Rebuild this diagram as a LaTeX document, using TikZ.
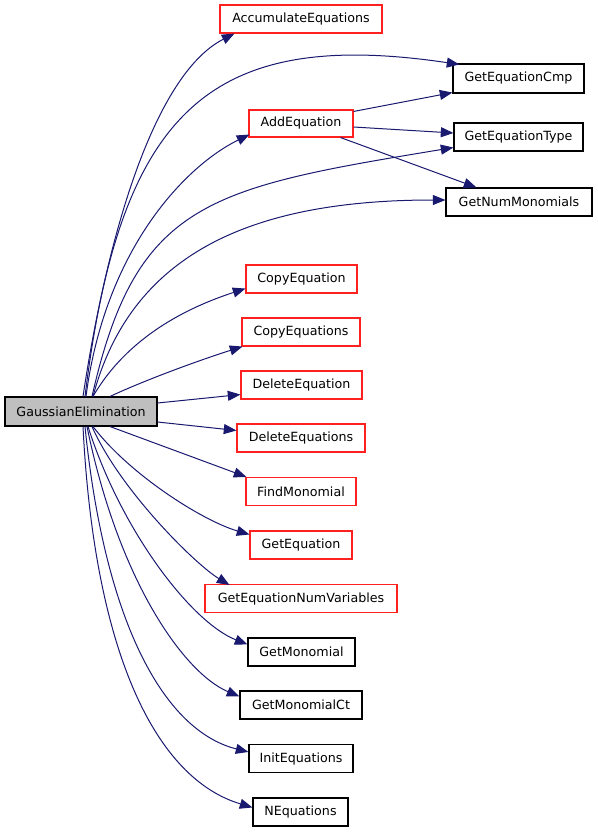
\documentclass[tikz,border=0pt]{standalone}
\usepackage{fontspec}
\setmainfont{DejaVu Sans}
\usetikzlibrary{calc,arrows.meta}
\definecolor{edgeblue}{HTML}{191970}
\definecolor{boxgray}{HTML}{BFBFBF}
\definecolor{boxred}{HTML}{FF2020}
\tikzset{
  fn/.style={draw=black, line width=0.8pt, rectangle, inner sep=0pt, minimum height=28*0.75pt, font=\fontsize{9.5}{11}\selectfont, fill=white},
  redfn/.style={fn, draw=boxred},
  wd/.style={minimum width=#1*0.75pt},
  edge/.style={draw=edgeblue, line width=0.75pt, -{Triangle[length=9.5pt,width=7.5pt]}},
}
\begin{document}
\begin{tikzpicture}[x=0.75pt,y=-0.75pt]
\useasboundingbox (0,0) rectangle (597,832);
% nodes
\node[fn, fill=boxgray, wd=152, minimum height=29*0.75pt] (G) at (81,411.5) {GaussianElimination};
\node[redfn, wd=162] (Acc) at (301,19) {AccumulateEquations};
\node[fn, wd=131, minimum height=29*0.75pt] (Cmp) at (518.5,78.5) {GetEquationCmp};
\node[redfn, wd=104, minimum height=27*0.75pt] (Add) at (301,123.5) {AddEquation};
\node[fn, wd=129] (Type) at (518.5,137) {GetEquationType};
\node[fn, wd=146] (Num) at (519,202) {GetNumMonomials};
\node[redfn, wd=111] (CopyEq) at (301.5,279) {CopyEquation};
\node[redfn, wd=118] (CopyEqs) at (301,332) {CopyEquations};
\node[redfn, wd=121] (DelEq) at (301.5,385) {DeleteEquation};
\node[redfn, wd=128] (DelEqs) at (301,438) {DeleteEquations};
\node[redfn, wd=110] (Find) at (301,491.5) {FindMonomial};
\node[redfn, wd=102] (GetEq) at (301,545) {GetEquation};
\node[redfn, wd=192] (Vars) at (301,598.5) {GetEquationNumVariables};
\node[fn, wd=107] (GetMon) at (301.5,652) {GetMonomial};
\node[fn, wd=122] (MonCt) at (301,705) {GetMonomialCt};
\node[fn, wd=104] (Init) at (301,758.5) {InitEquations};
\node[fn, wd=95] (NEq) at (300.5,812) {NEquations};
% edges from GaussianElimination (upwards)
\draw[edge] ($(G.north)+(2,0)$) .. controls (110,217) and (159,72) .. ($(Acc.south west)+(15,0)$);
\draw[edge] ($(G.north)+(4,0)$) .. controls (120,110) and (210,27.5) .. ($(Cmp.north west)+(7,1)$);
\draw[edge] ($(G.north)+(5,0)$) .. controls (105.5,247) and (187,165) .. ($(Add.south west)+(1,-3)$);
\draw[edge] ($(G.north)+(11,0)$) .. controls (136,202) and (207.5,188) .. ($(Type.south west)+(0,-4)$);
\draw[edge] ($(G.north)+(12,0)$) .. controls (130,257) and (246,200) .. ($(Num.west)+(0,-2)$);
\draw[edge] ($(G.north)+(12,0)$) .. controls (128,336) and (189,307) .. ($(CopyEq.south west)+(0,-5)$);
\draw[edge] ($(G.north)+(29,0)$) .. controls (145,380) and (200,360) .. ($(CopyEqs.south west)+(1,0)$);
\draw[edge] ($(G.east)+(0,-8.5)$) -- ($(DelEq.south west)+(0,-5)$);
\draw[edge] ($(G.east)+(0,10.5)$) -- ($(DelEqs.north west)+(0,7)$);
% edges from GaussianElimination (downwards)
\draw[edge] ($(G.south)+(29,0)$) -- ($(Find.north west)+(1,0)$);
\draw[edge] ($(G.south)+(12,0)$) .. controls (129,474) and (202,520.6) .. ($(GetEq.north west)+(0,4)$);
\draw[edge] ($(G.south)+(11,0)$) .. controls (120,490) and (195.6,564.6) .. ($(Vars.north west)+(25,1)$);
\draw[edge] ($(G.south)+(7,0)$) .. controls (121,530.5) and (191,622) .. ($(GetMon.north west)+(0,7)$);
\draw[edge] ($(G.south)+(6,0)$) .. controls (119,583) and (185,673.6) .. ($(MonCt.north west)+(0,6)$);
\draw[edge] ($(G.south)+(4,0)$) .. controls (105,625) and (165,731) .. ($(Init.north west)+(0,8)$);
\draw[edge] ($(G.south)+(2,0)$) .. controls (94.5,656) and (157,779) .. ($(NEq.north west)+(0,10)$);
% edges from AddEquation
\draw[edge] ($(Add.north east)+(0,2)$) -- ($(Cmp.south west)+(0,-1)$);
\draw[edge] ($(Add.east)+(0,3.5)$) -- ($(Type.west)+(0,-4)$);
\draw[edge] ($(Add.south east)+(-13,0)$) -- ($(Num.north west)+(31,0)$);
\end{tikzpicture}
\end{document}
